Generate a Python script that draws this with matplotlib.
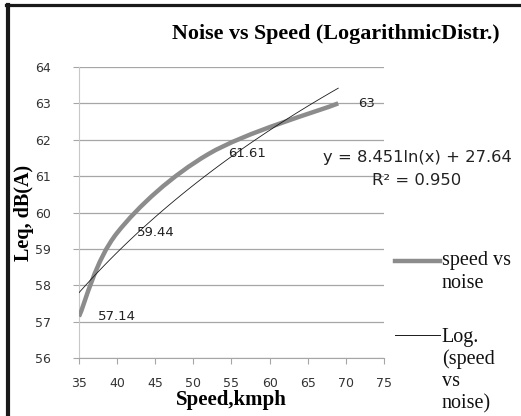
import numpy as np
import matplotlib
matplotlib.use("Agg")
import matplotlib.pyplot as plt
from matplotlib.path import Path
from matplotlib.patches import PathPatch
from matplotlib.lines import Line2D

# data
speed = [35, 40, 52, 69]
noise = [57.14, 59.44, 61.61, 63.0]
point_labels = ["57.14", "59.44", "61.61", "63"]
xticks = [35, 40, 45, 50, 55, 60, 65, 70, 75]
yticks = [56, 57, 58, 59, 60, 61, 62, 63, 64]
legend_1 = ["speed vs", "noise"]
legend_2 = ["Log.", "(speed", "vs", "noise)"]

serif = "Liberation Serif"
sans = "DejaVu Sans"

fig = plt.figure(figsize=(5.21, 4.16), dpi=100)
ax = fig.add_axes([0.1516, 0.1394, 0.5854, 0.6995])

# smoothed line (Excel style) drawn as bezier path through the points
pts = np.column_stack([speed, noise])
verts = [tuple(pts[0])]
codes = [Path.MOVETO]
n = len(pts)
for i in range(n - 1):
    p0 = pts[max(i - 1, 0)]
    p1 = pts[i]
    p2 = pts[i + 1]
    p3 = pts[min(i + 2, n - 1)]
    c1 = p1 + (p2 - p0) / 6
    c2 = p2 - (p3 - p1) / 6
    verts += [tuple(c1), tuple(c2), tuple(p2)]
    codes += [Path.CURVE4] * 3
ax.add_patch(PathPatch(Path(verts, codes), facecolor="none", edgecolor="#8c8c8c",
                       lw=3.2, capstyle="butt", zorder=3))

# logarithmic trend line fitted to the data
b, a = np.polyfit(np.log(speed), noise, 1)
xs = np.linspace(min(speed), max(speed), 100)
ax.plot(xs, b * np.log(xs) + a, color="#1a1a1a", lw=0.6, zorder=4)

# data labels
for x, y, t in zip(speed, noise, point_labels):
    ax.annotate(t, (x, y), xytext=(14, 0), textcoords="offset points",
                fontsize=9.5, family=sans, color="#222222", va="center", ha="left")

ax.text(1.108, 0.69, "y = 8.451ln(x) + 27.64", transform=ax.transAxes,
        fontsize=11.8, family=sans, color="#222222", ha="center", va="center")
ax.text(1.108, 0.61, "R\u00b2 = 0.950", transform=ax.transAxes,
        fontsize=11.8, family=sans, color="#222222", ha="center", va="center")

ax.set_xlim(35, 75)
ax.set_ylim(56, 64)
ax.set_xticks(xticks)
ax.set_yticks(yticks)
ax.grid(axis="y", color="#a6a6a6", lw=0.9)
ax.set_axisbelow(True)
for s in ["top", "right"]:
    ax.spines[s].set_visible(False)
ax.spines["left"].set_color("#c8c8c8")
ax.spines["bottom"].set_color("#a6a6a6")
ax.tick_params(axis="both", colors="#a6a6a6", labelcolor="#333333", labelsize=9,
               length=4, width=0.8)
ax.tick_params(axis="y", pad=16)
ax.tick_params(axis="x", pad=10)

ax.set_xlabel("Speed,kmph", family=serif, fontweight="bold", fontsize=15, labelpad=0)
ax.set_ylabel("Leq, dB(A)", family=serif, fontweight="bold", fontsize=14.5, labelpad=1)

fig.text(0.645, 0.907, "Noise vs Speed (LogarithmicDistr.)", family=serif,
         fontweight="bold", fontsize=15.8, ha="center", va="baseline")

# legend drawn by hand at the right
fig.add_artist(Line2D([0.758, 0.845], [1 - 261 / 416] * 2, color="#8c8c8c", lw=3.2))
fig.add_artist(Line2D([0.758, 0.845], [1 - 335 / 416] * 2, color="#1a1a1a", lw=0.7))
for k, t in enumerate(legend_1):
    fig.text(0.848, 1 - (265 + 23 * k) / 416, t, family=serif, fontsize=14.5,
             ha="left", va="baseline", color="#111111")
for k, t in enumerate(legend_2):
    fig.text(0.848, 1 - (342 + 22 * k) / 416, t, family=serif, fontsize=14.5,
             ha="left", va="baseline", color="#111111")

# black frame at top and left
fig.add_artist(Line2D([0.0154, 0.0154], [0, 0.988], color="#1a1a1a", lw=3.0))
fig.add_artist(Line2D([0.0115, 1.0], [0.987, 0.987], color="#1a1a1a", lw=2.3))

fig.savefig("out.png", dpi=100)
